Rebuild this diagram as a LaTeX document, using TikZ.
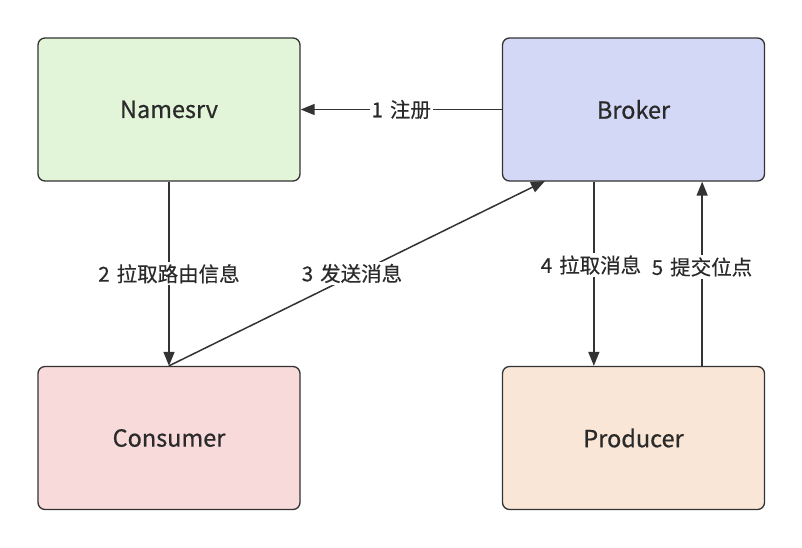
\documentclass[tikz,border=0pt]{standalone}
\usepackage{fontspec}
\setmainfont{Noto Sans CJK SC}[FakeBold=0.6]
\newfontfamily\labfont{Noto Sans CJK SC}[FakeBold=0.4]
\usetikzlibrary{arrows.meta}
\definecolor{edge}{HTML}{333333}
\definecolor{txt}{HTML}{2A2A2A}
\definecolor{cgreen}{HTML}{E2F5D9}
\definecolor{cblue}{HTML}{D4D8F7}
\definecolor{cred}{HTML}{F8DADB}
\definecolor{corange}{HTML}{FAE6D7}
\newcommand{\nsp}{\hspace{7pt}}
\tikzset{
  box/.style={draw=edge, line width=1.3pt, rounded corners=7pt, minimum width=262pt, minimum height=143pt, font=\fontsize{23.5}{27}\selectfont, text=txt},
  conn/.style={draw=edge, line width=1.5pt, -{Triangle[length=14pt,width=11pt]}},
  lab/.style={fill=white, inner sep=2pt, font=\labfont\fontsize{20.5}{24}\selectfont, text=txt}
}
\begin{document}
\begin{tikzpicture}[x=1pt,y=-1pt]
\useasboundingbox[fill=white] (0,0) rectangle (802,547);
\node[box, fill=cgreen] (ns) at (169,109.5) {Namesrv};
\node[box, fill=cblue] (br) at (633.5,109.5) {Broker};
\node[box, fill=cred] (co) at (169,438) {Consumer};
\node[box, fill=corange] (pr) at (633.5,438) {Producer};
\coordinate (c3) at (545,181);
\draw[conn] (br.west) -- node[lab] {1\nsp{}注册} (ns.east);
\draw[conn] (ns.south) -- node[lab] {2\nsp{}拉取路由信息} (co.north);
\draw[conn] (co.north) -- node[lab, pos=0.5, xshift=-5pt] {3\nsp{}发送消息} (c3);
\draw[conn] (br.south west) ++(92,0) coordinate (b4) -- (b4 |- co.north) coordinate (p4);
\node[lab] (l4) at (591,265) {4\nsp{}拉取消息};
\draw[conn] (pr.north east) ++(-63,0) coordinate (p5) -- (p5 |- br.south);
\node[lab] (l5) at (702,267) {5\nsp{}提交位点};
\end{tikzpicture}
\end{document}
